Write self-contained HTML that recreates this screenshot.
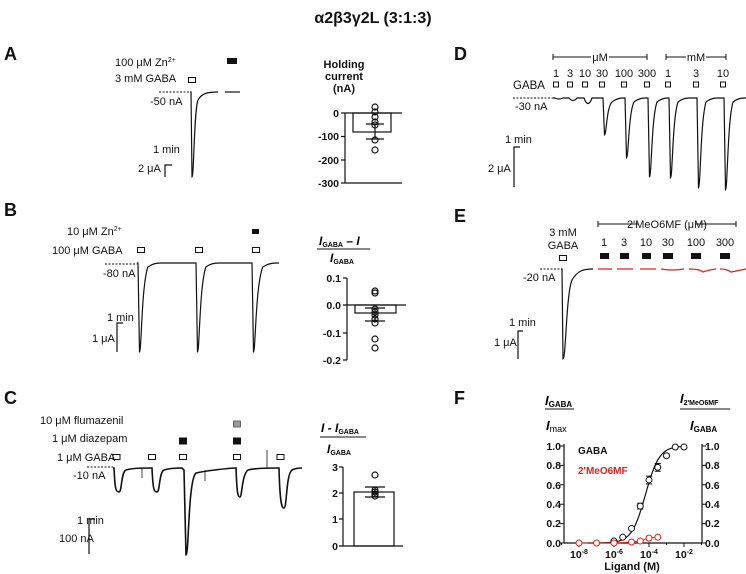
<!DOCTYPE html>
<html><head><meta charset="utf-8">
<style>
html,body{margin:0;padding:0;background:#fff;}
svg{display:block;font-family:"Liberation Sans",Arial,sans-serif;}
.t{font-size:11px;fill:#111;}
.b{font-size:10.5px;font-weight:bold;fill:#111;}
.L{font-size:18px;font-weight:bold;fill:#111;}
</style></head><body>
<svg id="s" width="746" height="574" viewBox="0 0 746 574" xmlns="http://www.w3.org/2000/svg">
<text x="373" y="23" text-anchor="middle" style="font-size:16px;font-weight:bold;fill:#111">α2β3γ2L (3:1:3)</text>

<text class="L" x="4" y="60">A</text>
<text class="L" x="4" y="216">B</text>
<text class="L" x="4" y="404">C</text>
<text class="L" x="454" y="60">D</text>
<text class="L" x="454" y="222">E</text>
<text class="L" x="454" y="404">F</text>

<g fill="none" stroke="#111" stroke-width="1.2">
<line x1="159" y1="92" x2="190" y2="92" stroke-dasharray="2,1.5" stroke-width="1"/>
<path d="M190,92 L191,92 L192,177 C194,177 194,110 198,100 C202,93 208,92 218,92"/>
<line x1="225" y1="92" x2="240" y2="92"/>
<path d="M165,177 L165,165 L172,165"/>
<rect x="188.5" y="77.5" width="7" height="5" stroke-width="1"/>
<line x1="345" y1="113" x2="345" y2="183"/>
<line x1="345" y1="113" x2="402" y2="113"/>
<line x1="345" y1="183" x2="402" y2="183"/>
<line x1="341" y1="136.5" x2="345" y2="136.5"/><line x1="341" y1="160" x2="345" y2="160"/><line x1="341" y1="113" x2="345" y2="113"/><line x1="341" y1="183" x2="345" y2="183"/>
<rect x="353" y="113" width="38" height="19"/>
<line x1="366" y1="124" x2="384" y2="124"/><line x1="366" y1="139" x2="384" y2="139"/><line x1="375" y1="124" x2="375" y2="139"/>
<circle cx="375" cy="107" r="3"/><circle cx="375" cy="112" r="3"/><circle cx="375" cy="117" r="3"/><circle cx="375" cy="122" r="3"/><circle cx="375" cy="125" r="3"/><circle cx="375" cy="140" r="3"/><circle cx="375" cy="150" r="3"/>

<line x1="105" y1="264" x2="137" y2="264" stroke-dasharray="2,1.5" stroke-width="1"/>
<path id="bt"/>
<path d="M117,352 L117,323 L123,323"/>
<rect x="137.5" y="247.5" width="7" height="5" stroke-width="1"/>
<rect x="195.5" y="247.5" width="7" height="5" stroke-width="1"/>
<rect x="252.5" y="247.5" width="7" height="5" stroke-width="1"/>
<line x1="317" y1="249" x2="370" y2="249" stroke-width="1"/>
<line x1="347" y1="278" x2="347" y2="360"/>
<line x1="343" y1="278" x2="347" y2="278"/><line x1="343" y1="333" x2="347" y2="333"/><line x1="343" y1="360" x2="347" y2="360"/>
<line x1="343" y1="305" x2="406" y2="305"/>
<rect x="355" y="305" width="41" height="8"/>
<line x1="365" y1="308" x2="385" y2="308"/><line x1="365" y1="321" x2="385" y2="321"/><line x1="375" y1="308" x2="375" y2="321"/>
<circle cx="375" cy="291" r="3"/><circle cx="375" cy="293" r="3"/><circle cx="375" cy="309" r="3"/><circle cx="375" cy="312" r="3"/><circle cx="375" cy="315" r="3"/><circle cx="375" cy="319" r="3"/><circle cx="375" cy="323" r="3"/><circle cx="375" cy="339" r="3"/><circle cx="375" cy="348" r="3"/>

<line x1="87" y1="467" x2="113" y2="467" stroke-dasharray="2,1.5" stroke-width="1"/>
<path stroke-width="1.6" d="M113,468 L114,468 C115,490 116,492 119,492 C122,492 121,472 126,470 Q132,468 150,468 L152,468 C153,490 154,492 157,492 C160,492 159,472 164,470 Q170,468 182,468 L184,470 L186,555 C189,555 188,480 196,473 Q210,470 234,468 L236,468 C237,495 238,497 240,497 C242,497 242,474 248,470 Q256,468 277,468 L279,468 C280,506 282,508 284,508 C287,508 286,474 292,470 Q296,468 302,468"/>
<line x1="142" y1="468" x2="142" y2="478" stroke-width="0.8"/>
<line x1="205" y1="470" x2="205" y2="481" stroke-width="0.8"/>
<line x1="267" y1="450" x2="267" y2="468" stroke-width="0.8"/>
<path d="M89,554 L89,519 L95,519"/>
<rect x="113" y="454.5" width="7" height="5" stroke-width="1"/>
<rect x="148.5" y="454.5" width="7" height="5" stroke-width="1"/>
<rect x="179.5" y="454.5" width="7" height="5" stroke-width="1"/>
<rect x="233.5" y="454.5" width="7" height="5" stroke-width="1"/>
<rect x="277" y="454.5" width="7" height="5" stroke-width="1"/>
<rect x="179.5" y="438" width="7" height="6" fill="#111" stroke-width="1"/>
<rect x="233.5" y="438" width="7" height="6" fill="#111" stroke-width="1"/>
<rect x="233.5" y="421" width="7" height="6" fill="#999" stroke="#666" stroke-width="1"/>
<line x1="320" y1="437" x2="366" y2="437" stroke-width="1"/>
<line x1="343" y1="467" x2="343" y2="546"/>
<line x1="339" y1="467" x2="343" y2="467"/><line x1="339" y1="493" x2="343" y2="493"/><line x1="339" y1="519" x2="343" y2="519"/>
<line x1="339" y1="546" x2="403" y2="546"/>
<rect x="354" y="492" width="40" height="54"/>
<line x1="365" y1="487" x2="385" y2="487"/><line x1="365" y1="497" x2="385" y2="497"/><line x1="375" y1="487" x2="375" y2="497"/>
<circle cx="375" cy="475" r="3"/><circle cx="375" cy="490" r="3"/><circle cx="375" cy="492" r="3"/><circle cx="375" cy="494" r="3"/><circle cx="375" cy="496" r="3"/>

<path d="M553,54 L553,60 M553,57 L591,57 M609,57 L647,57 M647,54 L647,60" stroke-width="1"/>
<path d="M666,54 L666,60 M666,57 L686,57 M706,57 L726,57 M726,54 L726,60" stroke-width="1"/>
<line x1="513" y1="98" x2="553" y2="98" stroke-dasharray="2,1.5" stroke-width="1"/>
<path id="dt"/>
<path d="M514,187 L514,147 L520,147"/>
<g id="dsq" stroke-width="1"></g>

<path d="M598,221 L598,227 M598,224 L638,224 M696,224 L736,224 M736,221 L736,227" stroke-width="1"/>
<line x1="540" y1="269" x2="561" y2="269" stroke-dasharray="2,1.5" stroke-width="1"/>
<path d="M561,269 L562,269 L563,359 C566,359 566,295 572,280 C578,270 584,269 593,269"/>
<rect x="559.5" y="255.5" width="7" height="5" stroke-width="1"/>
<path d="M518,359 L518,331 L523,331"/>
<g stroke="#e02020" stroke-width="1.3">
<path d="M598,269 L612,269 M617,269 L633,269 M640,269 L656,269 M661,269 Q672,271 684,269 M689,269 Q700,269 703,272 Q708,270 716,269 M720,269 Q727,269 731,272 Q736,271 746,269"/>
</g>
<g fill="#111" stroke="none">
<rect x="600" y="253" width="9" height="6"/><rect x="620" y="253" width="9" height="6"/><rect x="642" y="253" width="9" height="6"/><rect x="663" y="253" width="10" height="6"/><rect x="691" y="253" width="10" height="6"/><rect x="720" y="253" width="10" height="6"/>
<rect x="227" y="58" width="10" height="6"/>
<rect x="252" y="229" width="7" height="5"/>
</g>

<line x1="545" y1="409" x2="574" y2="409" stroke-width="1"/>
<line x1="680" y1="409" x2="730" y2="409" stroke-width="1"/>
<line x1="564" y1="444" x2="564" y2="543"/>
<line x1="702" y1="444" x2="702" y2="543"/>
<line x1="564" y1="543" x2="702" y2="543"/>
<g id="ft" stroke-width="1"></g>
<path id="fc" stroke-width="1.2"/>
<g id="fp" stroke-width="1"></g>
</g>

<text class="t" x="115" y="66">100 μM Zn<tspan dy="-4" style="font-size:7px">2+</tspan></text>
<text class="t" x="115" y="82">3 mM GABA</text>
<text class="t" x="150" y="105">-50 nA</text>
<text class="t" x="153" y="153">1 min</text>
<text class="t" x="138" y="172">2 μA</text>
<text class="b" x="344" y="68" text-anchor="middle" style="font-size:11px">Holding</text>
<text class="b" x="344" y="80" text-anchor="middle" style="font-size:11px">current</text>
<text class="b" x="344" y="92" text-anchor="middle" style="font-size:11px">(nA)</text>
<g class="b" text-anchor="end"><text x="339" y="117">0</text><text x="339" y="140">-100</text><text x="339" y="164">-200</text><text x="339" y="187">-300</text></g>

<text class="t" x="67" y="235">10 μM Zn<tspan dy="-4" style="font-size:7px">2+</tspan></text>
<text class="t" x="52" y="254">100 μM GABA</text>
<text class="t" x="103" y="277">-80 nA</text>
<text class="t" x="107" y="321">1 min</text>
<text class="t" x="92" y="342">1 μA</text>
<text x="319" y="245" style="font-size:12px;font-weight:bold;font-style:italic">I<tspan style="font-size:7px;font-style:normal" dy="2">GABA</tspan><tspan dy="-2" style="font-style:normal"> – </tspan>I</text>
<text x="330" y="262" style="font-size:12px;font-weight:bold;font-style:italic">I<tspan style="font-size:7px;font-style:normal" dy="2">GABA</tspan></text>
<g class="b" text-anchor="end"><text x="341" y="282">0.1</text><text x="341" y="309">0.0</text><text x="341" y="337">-0.1</text><text x="341" y="364">-0.2</text></g>

<text class="t" x="40" y="424">10 μM flumazenil</text>
<text class="t" x="52" y="442">1 μM diazepam</text>
<text class="t" x="57" y="461">1 μM GABA</text>
<text class="t" x="73" y="479">-10 nA</text>
<text class="t" x="77" y="524">1 min</text>
<text class="t" x="59" y="542">100 nA</text>
<text x="321" y="432" style="font-size:12px;font-weight:bold;font-style:italic">I - I<tspan style="font-size:7px;font-style:normal" dy="2">GABA</tspan></text>
<text x="327" y="453" style="font-size:12px;font-weight:bold;font-style:italic">I<tspan style="font-size:7px;font-style:normal" dy="2">GABA</tspan></text>
<g class="b" text-anchor="end"><text x="338" y="471">3</text><text x="338" y="497">2</text><text x="338" y="523">1</text><text x="338" y="550">0</text></g>

<text class="t" x="600" y="61" text-anchor="middle">μM</text>
<text class="t" x="696" y="61" text-anchor="middle">mM</text>
<g class="t" text-anchor="middle"><text x="556" y="77">1</text><text x="570" y="77">3</text><text x="585" y="77">10</text><text x="602" y="77">30</text><text x="624" y="77">100</text><text x="647" y="77">300</text><text x="668" y="77">1</text><text x="696" y="77">3</text><text x="723" y="77">10</text></g>
<text class="t" x="513" y="89" style="font-size:11.5px">GABA</text>
<text class="t" x="515" y="110">-30 nA</text>
<text class="t" x="505" y="143">1 min</text>
<text class="t" x="488" y="172">2 μA</text>

<text class="t" x="563" y="236" text-anchor="middle">3 mM</text>
<text class="t" x="563" y="249" text-anchor="middle">GABA</text>
<text class="t" x="667" y="228" text-anchor="middle">2'MeO6MF (μM)</text>
<g class="t" text-anchor="middle"><text x="604" y="246">1</text><text x="624" y="246">3</text><text x="646" y="246">10</text><text x="668" y="246">30</text><text x="696" y="246">100</text><text x="725" y="246">300</text></g>
<text class="t" x="523" y="281">-20 nA</text>
<text class="t" x="509" y="326">1 min</text>
<text class="t" x="494" y="346">1 μA</text>

<text x="545" y="405" style="font-size:13px;font-weight:bold;font-style:italic">I<tspan style="font-size:8px;font-style:normal" dy="2">GABA</tspan></text>
<text x="546" y="430" style="font-size:13px;font-weight:bold;font-style:italic">I<tspan style="font-size:9px;font-style:normal;font-weight:normal" dy="2">max</tspan></text>
<text x="680" y="403" style="font-size:13px;font-weight:bold;font-style:italic">I<tspan style="font-size:7px;font-style:normal" dy="2">2'MeO6MF</tspan></text>
<text x="690" y="430" style="font-size:13px;font-weight:bold;font-style:italic">I<tspan style="font-size:8px;font-style:normal" dy="2">GABA</tspan></text>
<g class="b" text-anchor="end"><text x="561" y="450">1.0</text><text x="561" y="469">0.8</text><text x="561" y="489">0.6</text><text x="561" y="508">0.4</text><text x="561" y="527">0.2</text><text x="561" y="547">0.0</text></g>
<g class="b"><text x="705" y="450">1.0</text><text x="705" y="469">0.8</text><text x="705" y="489">0.6</text><text x="705" y="508">0.4</text><text x="705" y="527">0.2</text><text x="705" y="547">0.0</text></g>
<g class="b" text-anchor="middle"><text x="579" y="558">10<tspan dy="-4" style="font-size:7px">-8</tspan></text><text x="614" y="558">10<tspan dy="-4" style="font-size:7px">-6</tspan></text><text x="649" y="558">10<tspan dy="-4" style="font-size:7px">-4</tspan></text><text x="684" y="558">10<tspan dy="-4" style="font-size:7px">-2</tspan></text></g>
<text class="b" x="632" y="570" text-anchor="middle" style="font-size:11px">Ligand (M)</text>
<text class="b" x="578" y="454" style="font-size:10px">GABA</text>
<text class="b" x="578" y="474" style="font-size:10px;fill:#e02020">2'MeO6MF</text>
</svg>
<script>
var NS="http://www.w3.org/2000/svg";
function pk(x,y0,yb,w){var d=yb-y0;return " L"+x+","+y0+" L"+(x+1.5)+","+yb+" C"+(x+3.5)+","+yb+" "+(x+3.5)+","+(y0+d*0.25)+" "+(x+w*0.45)+","+(y0+4)+" Q"+(x+w*0.7)+","+y0+" "+(x+w)+","+y0;}
document.getElementById("bt").setAttribute("d","M137,263"+pk(138,263,352,22)+" L196,263"+pk(196,263,352,22)+" L252,263"+pk(252,263,352,24)+" L279,263");
var dx=[556,570,585,602,624,647,668,696,723],db=[100,103,109,135,158,177,178,188,190];
var s="M553,98";
for(var i=0;i<9;i++){var x=dx[i]+1;if(i<3){s+=" L"+(x-2)+",98 Q"+(x+2)+","+db[i]+" "+(x+6)+",98";}else{s+=pk(x,98,db[i],20);}}
s+=" L746,98";document.getElementById("dt").setAttribute("d",s);
var g=document.getElementById("dsq");
dx.forEach(function(x){var r=document.createElementNS(NS,"rect");r.setAttribute("x",x-2.5);r.setAttribute("y",82);r.setAttribute("width",5);r.setAttribute("height",5);g.appendChild(r);});
function X(l){return 614+(l+6)*17.5;}function Y(v){return 543-97*v;}
var ft=document.getElementById("ft"),tk="";
[0,0.2,0.4,0.6,0.8,1].forEach(function(v){tk+="M560,"+Y(v)+" L564,"+Y(v)+" M702,"+Y(v)+" L706,"+Y(v)+" ";});
for(var l=-9;l<=-1;l++){tk+="M"+X(l)+",543 L"+X(l)+","+(l%2==0?547:545)+" ";}
var p=document.createElementNS(NS,"path");p.setAttribute("d",tk);ft.appendChild(p);
var c="";for(var l=-7.5;l<=-2;l+=0.05){var v=1/(1+Math.pow(10,(-4.2-l)*1.1));c+=(c?" L":"M")+X(l).toFixed(1)+","+Y(v).toFixed(1);}
document.getElementById("fc").setAttribute("d",c);
var fp=document.getElementById("fp");
function circ(x,y,col){var e=document.createElementNS(NS,"circle");e.setAttribute("cx",x);e.setAttribute("cy",y);e.setAttribute("r",3);e.setAttribute("fill","#fff");if(col)e.setAttribute("stroke",col);fp.appendChild(e);}
var gp=[[-6,0.02],[-5.5,0.06],[-5,0.15],[-4.5,0.38,0.03],[-4,0.65,0.04],[-3.5,0.78,0.04],[-3,0.9,0.02],[-2.5,0.99],[-2,0.99,0.01]];
gp.forEach(function(q){if(q[2]){var e=document.createElementNS(NS,"path");var x=X(q[0]);e.setAttribute("d","M"+x+","+Y(q[1]-q[2])+" L"+x+","+Y(q[1]+q[2])+" M"+(x-3)+","+Y(q[1]-q[2])+" L"+(x+3)+","+Y(q[1]-q[2])+" M"+(x-3)+","+Y(q[1]+q[2])+" L"+(x+3)+","+Y(q[1]+q[2]));fp.appendChild(e);}circ(X(q[0]),Y(q[1]));});
var rp=[[-8,0],[-7,0],[-6,0],[-5,0.01],[-4.5,0.02],[-4,0.05],[-3.5,0.06]],rd="";
rp.forEach(function(q){rd+=(rd?" L":"M")+X(q[0])+","+Y(q[1]);});
var rl=document.createElementNS(NS,"path");rl.setAttribute("d",rd);rl.setAttribute("stroke","#e02020");fp.appendChild(rl);
rp.forEach(function(q){circ(X(q[0]),Y(q[1]),"#e02020");});
</script>
</body></html>
